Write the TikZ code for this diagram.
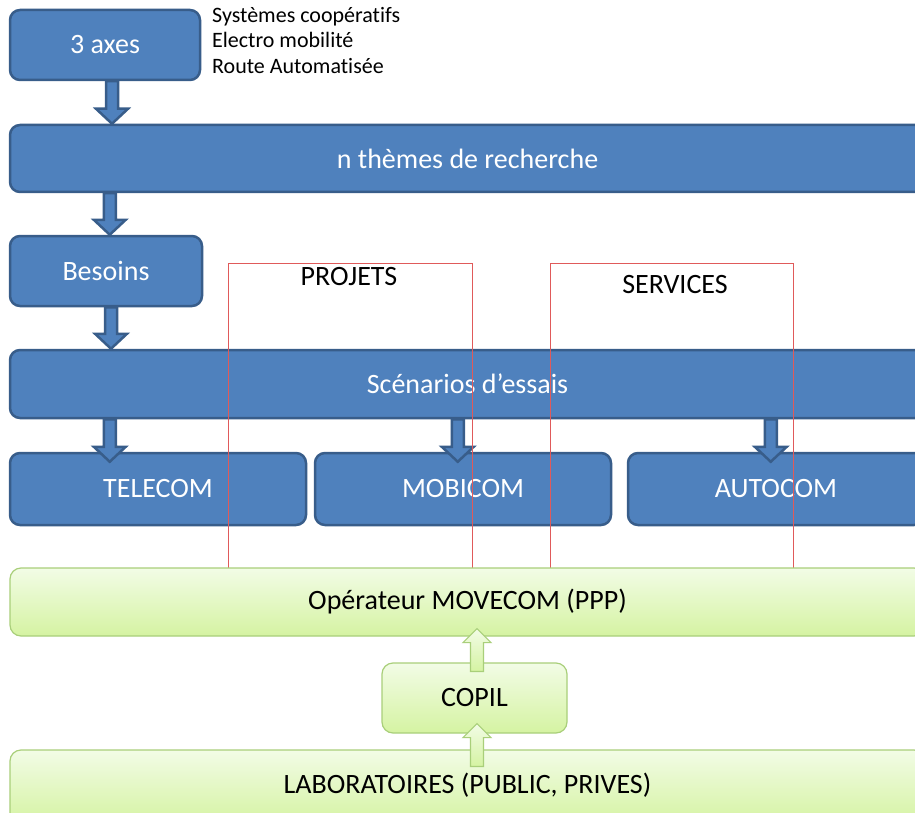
\documentclass[tikz,border=0pt]{standalone}
\usepackage{fontspec}
\setmainfont[Ligatures=NoCommon]{Carlito}
\usetikzlibrary{calc}
\definecolor{bfill}{HTML}{4F81BD}
\definecolor{bdraw}{HTML}{385D8A}
\definecolor{gtop}{HTML}{F2FCE6}
\definecolor{gbot}{HTML}{D5F3A2}
\definecolor{gdraw}{HTML}{A9CF7A}
\definecolor{rline}{HTML}{E05A5A}
\newcommand\bigfont{\fontsize{28}{32}\selectfont}
\newcommand\smallfont{\fontsize{22}{25.5}\selectfont}
% block arrow pointing down: style, start point, tip point (x from start, y from tip)
\newcommand\blkdown[3]{%
  \draw[#1] let \p1=(#2), \p2=(#3) in
    (\x1-6pt,\y1) -- (\x1-6pt,\y2+15pt) -- (\x1-16pt,\y2+15pt) -- (\x1,\y2)
    -- (\x1+16pt,\y2+15pt) -- (\x1+6pt,\y2+15pt) -- (\x1+6pt,\y1) -- cycle;}
% block arrow pointing up
\newcommand\blkup[3]{%
  \draw[#1] let \p1=(#2), \p2=(#3) in
    (\x1-6.5pt,\y1) -- (\x1-6.5pt,\y2-14pt) -- (\x1-14pt,\y2-14pt) -- (\x1,\y2)
    -- (\x1+14pt,\y2-14pt) -- (\x1+6.5pt,\y2-14pt) -- (\x1+6.5pt,\y1) -- cycle;}
\tikzset{
  bluebox/.style={draw=bdraw, fill=bfill, line width=2.5pt, rounded corners=10pt,
    text=white, font=\bigfont, inner sep=0pt},
  greenbox/.style={draw=gdraw, top color=gtop, bottom color=gbot, line width=1.2pt,
    rounded corners=11pt, text=black, font=\bigfont, inner sep=0pt},
  barrow/.style={draw=bdraw, fill=bfill, line width=2.5pt, line join=miter},
  garrow/.style={draw=gdraw, top color=gtop, bottom color=gbot, line width=1.2pt},
  redbox/.style={draw=rline, line width=0.9pt, inner sep=0pt},
  lbl/.style={text=black, font=\bigfont, inner sep=0pt},
  side/.style={text=black, font=\smallfont, align=left, inner sep=0pt}
}
\begin{document}
\begin{tikzpicture}[x=1pt,y=-1pt]
\useasboundingbox (0,0) rectangle (915,813);
\clip (0,0) rectangle (915,813);
\fill[white] (0,0) rectangle (915,813);
% blue boxes
\node[bluebox, minimum width=190, minimum height=70] (axes) at (105,45) {3 axes};
\node[bluebox, minimum width=915, minimum height=67] (themes) at (467.5,158.5) {n thèmes de recherche};
\node[bluebox, minimum width=192, minimum height=70] (besoins) at (106,271) {Besoins};
\node[bluebox, minimum width=915, minimum height=68] (scen) at (467.5,384) {Scénarios d’essais};
\node[bluebox, minimum width=296, minimum height=72] (telecom) at (158,489) {TELECOM};
\node[bluebox, minimum width=296, minimum height=72] (mobicom) at (463,489) {MOBICOM};
\node[bluebox, minimum width=296, minimum height=72] (autocom) at (776,489) {AUTOCOM};
% side text
\node[side, anchor=north west] (axeslist) at (212,7)
  {Systèmes coopératifs\\Electro mobilité\\Route Automatisée};
% blue block arrows
\blkdown{barrow}{$(axes.south)+(7,0)$}{themes.north}
\blkdown{barrow}{$(themes.south west)+(101,0)$}{besoins.north}
\blkdown{barrow}{$(besoins.south)+(5,0)$}{scen.north}
\blkdown{barrow}{$(scen.south west)+(101,0)$}{$(telecom.north)+(0,10)$}
\blkdown{barrow}{$(scen.south west)+(449,0)$}{$(mobicom.north)+(0,10)$}
\blkdown{barrow}{$(scen.south west)+(762,0)$}{$(autocom.north)+(0,10)$}
% red frames
\node[redbox, minimum width=244, minimum height=310, anchor=north west] (projets) at (228,263) {};
\node[redbox, minimum width=243, minimum height=310, anchor=north west] (services) at (550,263) {};
\node[lbl] (projetslbl) at (349,277) {PROJETS};
\node[lbl] (serviceslbl) at (675,285) {SERVICES};
% green boxes
\node[greenbox, minimum width=915, minimum height=68] (oper) at (467.5,602) {Opérateur MOVECOM (PPP)};
\node[greenbox, minimum width=185, minimum height=70] (copil) at (474.5,698) {COPIL};
\node[greenbox, minimum width=915, minimum height=74] (labo) at (467.5,787) {};
\node[lbl] (labolbl) at (467.5,785) {LABORATOIRES (PUBLIC, PRIVES)};
% green block arrows
\blkup{garrow}{$(copil.north)+(2.5,9)$}{$(oper.south)+(0,-8)$}
\blkup{garrow}{$(labo.north)+(9.5,17)$}{$(copil.south)+(0,-10)$}
\end{tikzpicture}
\end{document}
